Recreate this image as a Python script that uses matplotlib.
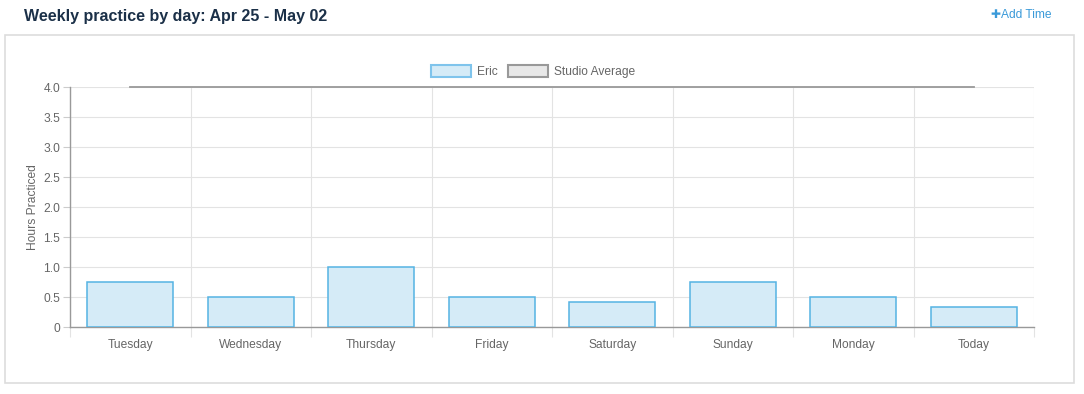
import matplotlib
matplotlib.use("Agg")
import matplotlib.pyplot as plt
from matplotlib.patches import Rectangle
from matplotlib.ticker import FixedLocator

days = ["Tuesday", "Wednesday", "Thursday", "Friday", "Saturday", "Sunday", "Monday", "Today"]
eric_hours = [0.75, 0.5, 1.0, 0.5, 0.42, 0.75, 0.5, 0.33]
studio_avg = [4.0, 4.0, 4.0, 4.0, 4.0, 4.0, 4.0, 4.0]
y_ticks = [0, 0.5, 1.0, 1.5, 2.0, 2.5, 3.0, 3.5, 4.0]
y_tick_labels = ["0", "0.5", "1.0", "1.5", "2.0", "2.5", "3.0", "3.5", "4.0"]

plt.rcParams["font.family"] = ["Liberation Sans", "DejaVu Sans"]

W, H = 1084, 394
fig = plt.figure(figsize=(W / 100, H / 100), dpi=100)
PX = 0.72  # points per pixel


def fx(x):
    return x / W


def fy(y):
    return 1 - y / H


# card border
fig.patches.append(Rectangle((fx(5), fy(383)), fx(1069), 348 / H, transform=fig.transFigure,
                             fill=False, edgecolor="#dddddd", linewidth=1.2))
fig.text(fx(24), fy(16), "Weekly practice by day: Apr 25 - May 02", fontsize=16 * PX,
         fontweight="bold", color="#1b3048", va="center", ha="left")
fig.text(fx(995.5), fy(15), "\u271a", fontsize=12 * PX, color="#3a9ad9", va="center", ha="center",
         family=["DejaVu Sans"])
fig.text(fx(1001), fy(15), "Add Time", fontsize=12 * PX, color="#3a9ad9", va="center", ha="left")

ax = fig.add_axes([fx(70), fy(327), fx(964), 240 / H])
x = list(range(len(days)))
ax.bar(x, eric_hours, width=0.71, color="#d5ebf7", edgecolor="#55b3e3", linewidth=1.1, zorder=3)
ax.plot(x, studio_avg, color="#999999", linewidth=1.3, zorder=4, clip_on=False)

ax.set_xlim(-0.5, len(days) - 0.5)
ax.set_ylim(0, 4.0)
ax.set_xticks(x)
ax.set_xticklabels(days)
ax.xaxis.set_minor_locator(FixedLocator([i - 0.5 for i in range(len(days) + 1)]))
ax.tick_params(axis="x", which="major", length=0, pad=12 * PX, labelsize=12 * PX, labelcolor="#666666")
ax.tick_params(axis="x", which="minor", length=10 * PX, width=0.8, color="#e3e3e3")
ax.set_yticks(y_ticks)
ax.set_yticklabels(y_tick_labels)
ax.tick_params(axis="y", length=7 * PX, width=0.8, color="#cccccc", pad=2, labelsize=12 * PX,
               labelcolor="#666666")
ax.grid(True, axis="y", color="#e3e3e3", linewidth=0.8, zorder=0)
ax.grid(True, axis="x", which="minor", color="#e3e3e3", linewidth=0.8, zorder=0)
ax.grid(False, axis="x", which="major")

for s in ["top", "right"]:
    ax.spines[s].set_visible(False)
ax.spines["left"].set_color("#999999")
ax.spines["bottom"].set_color("#999999")
ax.spines["left"].set_linewidth(1.0)
ax.spines["bottom"].set_linewidth(1.0)
ax.set_ylabel("Hours Practiced", fontsize=12 * PX, color="#666666", labelpad=3)

# legend
fig.patches.append(Rectangle((fx(431), fy(77)), fx(40), 12 / H, transform=fig.transFigure,
                             facecolor="#d5ebf7", edgecolor="#7fc4ec", linewidth=1.5))
fig.text(fx(477), fy(72), "Eric", fontsize=12 * PX, color="#666666", va="center", ha="left")
fig.patches.append(Rectangle((fx(508), fy(77)), fx(40), 12 / H, transform=fig.transFigure,
                             facecolor="#e8e8e8", edgecolor="#999999", linewidth=1.5))
fig.text(fx(554), fy(72), "Studio Average", fontsize=12 * PX, color="#666666", va="center", ha="left")

fig.savefig("out.png", dpi=100)
